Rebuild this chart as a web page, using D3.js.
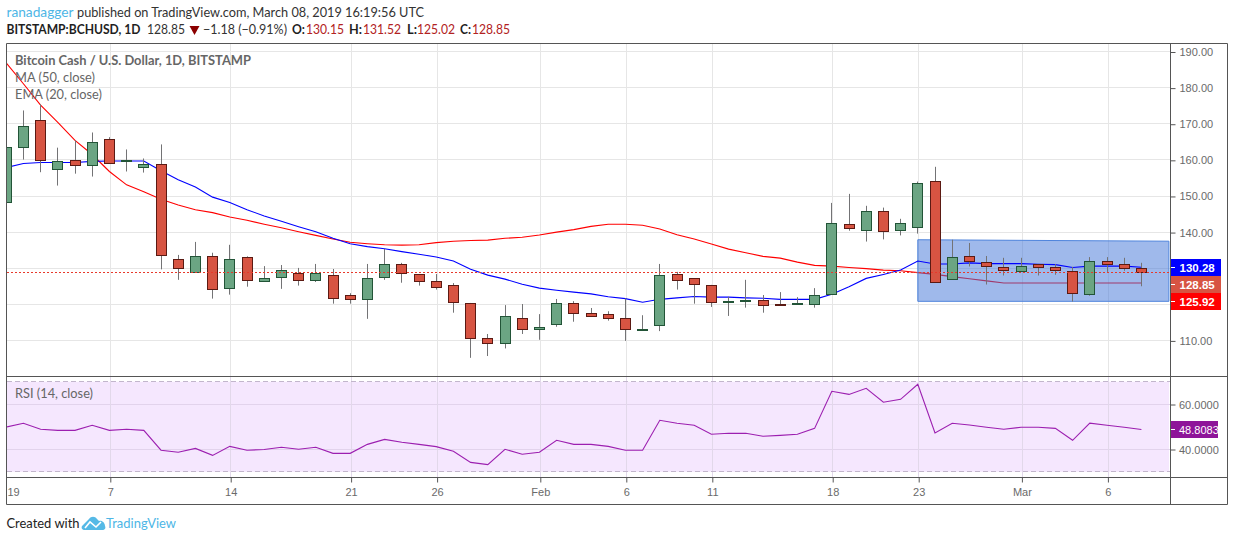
<!DOCTYPE html>
<html><head><meta charset="utf-8"><title>BCHUSD</title>
<script src="https://cdn.jsdelivr.net/npm/d3@7/dist/d3.min.js"></script>
<style>html,body{margin:0;padding:0;background:#fff;overflow:hidden}svg{display:block}</style></head>
<body><svg id="c" width="1234" height="541"></svg>
<script>
const opens=[148.3,163.6,171.1,157.5,160.0,158.6,165.8,159.7,158.1,158.9,132.5,128.9,133.3,124.5,133.1,126.4,127.5,128.6,126.7,128.1,122.5,121.4,127.5,131.1,128.3,126.4,125.3,120.3,110.8,109.2,116.1,113.1,114.5,120.3,117.5,117.2,116.1,112.9,114.2,128.3,127.2,125.3,120.7,120.8,121.1,120.0,120.1,120.0,122.8,142.2,140.6,145.8,140.6,141.4,154.2,127.0,133.3,131.7,130.3,129.2,131.1,130.3,129.2,122.8,132.0,131.1,130.15];
const highs=[163.6,173.7,175.4,163.4,165.4,167.6,166.3,162.9,160.4,164.3,133.7,137.3,134.3,136.5,133.3,130.6,130.9,130.1,131.2,129.8,123.1,131.2,135.4,131.5,128.4,128.4,125.9,120.4,111.8,119.8,120.1,117.3,121.5,120.9,119.0,118.1,121.7,117.0,131.2,129.0,127.3,125.4,122.1,126.8,122.6,123.4,122.0,124.5,148.1,150.6,147.3,146.8,143.7,154.0,158.1,137.9,137.0,133.4,132.9,132.9,131.2,131.2,130.4,133.1,133.1,132.9,131.52];
const lows=[148.3,160.1,156.6,152.9,156.2,155.4,159.2,156.8,156.5,129.7,126.8,128.9,121.6,122.7,124.9,126.4,124.3,125.2,126.2,120.2,120.2,116.0,126.8,126.0,125.2,124.1,117.7,105.2,105.7,107.8,111.8,110.2,113.8,115.2,116.6,115.5,109.9,112.9,112.6,124.1,120.2,119.3,116.8,119.1,117.7,119.6,119.9,119.1,122.8,140.4,137.4,138.0,139.1,139.6,126.1,127.0,130.5,125.5,128.0,129.2,128.0,128.2,120.8,122.4,129.0,129.3,125.02];
const closes=[163.6,169.4,159.9,159.7,158.6,165.0,159.2,160.0,159.0,133.6,130.0,133.3,124.2,132.5,126.7,127.2,129.5,126.7,128.7,121.7,121.4,127.2,131.1,128.6,126.4,124.7,120.6,110.8,109.2,116.9,113.1,113.6,120.3,117.5,116.9,116.1,113.3,113.3,128.1,126.7,125.6,120.6,120.9,121.1,119.7,119.8,120.3,122.5,142.5,141.1,145.8,140.3,142.5,153.6,126.1,133.1,132.0,130.6,129.5,130.6,130.3,129.5,123.1,132.0,131.1,130.0,128.85];
const maSeries=[186.9,181.1,175.2,170.4,165.4,161.5,156.8,153.1,151.2,149.1,147.5,146.2,145.4,144.2,143.3,142.2,141.2,140.1,139.1,138.1,137.2,136.8,136.5,136.4,136.5,137.1,137.5,137.7,137.8,138.3,138.6,139.2,140.0,140.7,141.6,142.2,142.2,141.9,140.9,139.3,138.1,136.7,135.3,134.3,133.3,132.8,131.7,130.8,130.6,130.2,129.9,129.5,129.3,128.8,128.3,127.7,127.1,126.5,125.92,125.92,125.92,125.92,125.92,125.92,125.92,125.92,125.92];
const emaSeries=[157.9,159.0,159.3,159.3,159.3,159.6,159.7,159.7,159.7,157.0,154.5,152.5,149.7,148.2,146.2,144.5,143.0,141.5,140.1,138.3,136.8,136.0,135.4,134.6,133.9,133.1,132.0,129.7,128.1,127.0,125.6,124.5,123.9,123.4,122.9,122.1,121.6,120.6,121.4,121.8,122.2,122.0,122.0,121.8,121.7,121.4,121.4,121.4,122.8,124.9,127.2,128.3,129.5,132.0,131.2,131.2,131.5,131.3,131.3,131.3,131.1,131.0,130.2,130.6,130.6,130.6,130.28];
const rsiSeries=[49.9,51.6,48.9,48.4,48.4,50.7,48.4,48.9,48.4,39.6,38.7,40.4,37.3,41.3,39.6,39.9,40.9,40.0,40.9,38.2,38.2,42.2,44.4,43.1,42.2,41.2,39.1,34.2,33.2,40.0,37.8,38.7,44.0,42.2,42.2,41.3,39.6,39.6,52.9,51.6,50.7,46.7,47.1,47.1,45.8,46.2,46.7,49.3,65.8,64.4,67.1,60.9,62.2,68.9,47.3,51.6,50.8,49.8,48.9,49.8,49.8,49.3,44.0,51.6,50.7,49.8,48.8083];
const priceGrid=[110,120,130,140,150,160,170,180,190];
const priceTicks=[110,140,150,160,170,180,190];
const priceBadges=[["130.28",130.28,"#0000ff"],["128.85",128.85,"#d75442"],["125.92",125.92,"#ff0000"]];
const rsiTicks=[40,60];
const rsiBands=[30,70];
const timeTickIdx=[0,6,13,20,25,31,36,41,48,53,59,64];
const timeTickLabels=["19","7","14","21","26","Feb","6","11","18","23","Mar","6"];
const rangeBox={fromIdx:53,toIdx:67.6,topLeft:137.9,topRight:137.5,bottom:120.85};

const svg=d3.select("#c");
const x=d3.scaleLinear().domain([0,66]).range([6.2,6.2+66*17.2]);
const y=d3.scaleLinear().domain([110,190]).range([340.5,51.6]);
const ry=d3.scaleLinear().domain([40,60]).range([449.3,404.3]);
const px=v=>Math.floor(v)+.5;
const L=6.5,R=1170.5,RO=1227.5,T=43.5,M=376.5,B=477.5,BO=504.5;
const uiFont="Lato, 'Noto Sans', sans-serif", axFont="'Liberation Sans', Arial, sans-serif";

svg.append("clipPath").attr("id","main").append("rect").attr("x",7).attr("y",44).attr("width",1163).attr("height",332);
svg.append("clipPath").attr("id","rsi").append("rect").attr("x",7).attr("y",377).attr("width",1163).attr("height",100);

// grid
const grid=svg.append("g").attr("stroke","#e6e6e6").attr("stroke-width",1);
grid.selectAll("line.h").data(priceGrid).join("line").attr("x1",7).attr("x2",1170)
  .attr("y1",d=>px(y(d))).attr("y2",d=>px(y(d)));
grid.selectAll("line.v").data(timeTickIdx.slice(1)).join("line")
  .attr("x1",d=>px(x(d)+1)).attr("x2",d=>px(x(d)+1)).attr("y1",44).attr("y2",376);

const main=svg.append("g").attr("clip-path","url(#main)");
const line=d3.line().x((d,i)=>x(i)).y(d=>y(d));
main.append("path").attr("d",line(maSeries)).attr("fill","none").attr("stroke","#ff0000").attr("stroke-width",1.1);

// range box
const boxPts=[[x(rangeBox.fromIdx),y(rangeBox.topLeft)],[x(rangeBox.toIdx),y(rangeBox.topRight)],[x(rangeBox.toIdx),y(rangeBox.bottom)],[x(rangeBox.fromIdx),y(rangeBox.bottom)]];
main.append("polygon").attr("points",boxPts.map(p=>p.join(",")).join(" "))
  .attr("fill","#3f74d8").attr("fill-opacity",.5).attr("stroke","#4f84dc").attr("stroke-width",1);

main.append("path").attr("d",line(emaSeries)).attr("fill","none").attr("stroke","#0000ff").attr("stroke-width",1.1);

// candles
const idx=d3.range(opens.length);
main.selectAll("line.w").data(idx).join("line").attr("stroke","#737375").attr("stroke-width",1)
  .attr("x1",i=>px(x(i))).attr("x2",i=>px(x(i))).attr("y1",i=>y(highs[i])).attr("y2",i=>y(lows[i]));
main.selectAll("rect.b").data(idx).join("rect")
  .attr("x",i=>px(x(i))-5).attr("width",10)
  .attr("y",i=>Math.round(y(Math.max(opens[i],closes[i])))+.5)
  .attr("height",i=>Math.max(0,Math.round(y(Math.min(opens[i],closes[i])))-Math.round(y(Math.max(opens[i],closes[i])))))
  .attr("fill",i=>closes[i]>=opens[i]?"#6ba583":"#d75442")
  .attr("stroke",i=>closes[i]>=opens[i]?"#225437":"#5b1a13").attr("stroke-width",1);

// last price line
main.append("line").attr("x1",7).attr("x2",1170).attr("y1",px(y(128.85))).attr("y2",px(y(128.85)))
  .attr("stroke","#e8392b").attr("stroke-width",1).attr("stroke-dasharray","2,2");

// RSI pane
const rsiG=svg.append("g").attr("clip-path","url(#rsi)");
rsiG.append("rect").attr("x",7).attr("width",1162).attr("y",ry(rsiBands[1])).attr("height",ry(rsiBands[0])-ry(rsiBands[1])).attr("fill","#f5e7fe");
rsiG.selectAll("line.h").data(rsiTicks).join("line").attr("x1",7).attr("x2",1170)
  .attr("y1",d=>px(ry(d))).attr("y2",d=>px(ry(d))).attr("stroke","#e2d3ec");
rsiG.selectAll("line.v").data(timeTickIdx.slice(1)).join("line")
  .attr("x1",d=>px(x(d)+1)).attr("x2",d=>px(x(d)+1)).attr("y1",377).attr("y2",477).attr("stroke","#e2d8ea");
rsiG.selectAll("line.band").data(rsiBands).join("line").attr("x1",7).attr("x2",1170)
  .attr("y1",d=>px(ry(d))).attr("y2",d=>px(ry(d))).attr("stroke","#c2b6cc").attr("stroke-dasharray","5,3");
rsiG.append("path").attr("d",d3.line().x((d,i)=>x(i)).y(d=>ry(d))(rsiSeries)).attr("fill","none").attr("stroke","#9c1fb0").attr("stroke-width",1.1);

// axes
function styleAxis(g){g.select(".domain").remove();g.selectAll("line").attr("stroke","#555");
  g.selectAll("text").attr("fill","#6a6a6a").style("font-family",axFont).style("font-size","11px");}
svg.append("g").attr("transform",`translate(${R},0.4)`)
  .call(d3.axisRight(y).tickValues(priceTicks).tickFormat(d3.format(".2f")).tickSize(5).tickPadding(4)).call(styleAxis);
svg.append("g").attr("transform",`translate(${R},0.2)`)
  .call(d3.axisRight(ry).tickValues(rsiTicks).tickFormat(d3.format(".4f")).tickSize(5).tickPadding(3.5)).call(styleAxis);
const xAxis=svg.append("g").attr("transform",`translate(0.9,${B})`)
  .call(d3.axisBottom(x).tickValues(timeTickIdx).tickFormat((d,i)=>timeTickLabels[i]).tickSize(5).tickPadding(6)).call(styleAxis);
xAxis.selectAll(".tick").filter(d=>d===0).select("line").remove();
xAxis.selectAll(".tick").filter(d=>d===0).select("text").attr("x",6);

// badges
const badges=svg.append("g");
priceBadges.forEach(([t,v,c],i)=>{
  const top=[259,276,293][i];
  badges.append("rect").attr("x",1170).attr("y",top).attr("width",51).attr("height",17).attr("fill",c);
  badges.append("line").attr("x1",1171).attr("x2",1175).attr("y1",top+8.5).attr("y2",top+8.5).attr("stroke","#fff");
  badges.append("text").attr("x",1179.5).attr("y",top+12.5).attr("fill","#fff").attr("font-family",axFont).attr("font-size",11.5).attr("font-weight",700).text(t);
});
badges.append("rect").attr("x",1170).attr("y",421).attr("width",48).attr("height",17).attr("fill","#8e1599");
badges.append("line").attr("x1",1171).attr("x2",1175).attr("y1",429.5).attr("y2",429.5).attr("stroke","#fff");
badges.append("text").attr("x",1179).attr("y",433.5).attr("fill","#fff").attr("font-family",axFont).attr("font-size",11).text("48.8083");

// frame
const frame=svg.append("g").attr("stroke","#555").attr("stroke-width",1);
[[L,T,RO,T],[L,M,RO,M],[L,B,RO,B],[L,BO,RO,BO],[L,T,L,BO],[R,T,R,BO],[RO,T,RO,BO]].forEach(a=>
  frame.append("line").attr("x1",a[0]).attr("y1",a[1]).attr("x2",a[2]).attr("y2",a[3]));

// text helpers
function txt(s,xp,yp,w,fill,o={}){const t=svg.append("text").attr("x",xp).attr("y",yp).attr("fill",fill)
  .attr("font-family",uiFont).attr("font-size",o.size||13.5).attr("font-weight",o.weight||400).text(s);
  if(w)t.attr("textLength",w).attr("lengthAdjust","spacingAndGlyphs");return t;}
const ink="#1f1f1f",legend="#666",dn="#b22222";
txt("ranadagger",6.5,17,67,"#4db6e6");
txt("published on TradingView.com, March 08, 2019 16:19:56 UTC",77,17,347,"#333");
txt("BITSTAMP:BCHUSD, 1D",6.5,34,134,ink,{weight:700});
txt("128.85",147,34,38,"#333");
svg.append("path").attr("d",d3.line()([[189.5,26],[199.5,26],[194.5,35]])+"Z").attr("fill","#8b0000");
txt("\u22121.18 (\u22120.91%)",203,34,84,"#333");
txt("O:",292,34,13,ink,{weight:700}); txt("130.15",306,34,38,dn);
txt("H:",349,34,13,ink,{weight:700}); txt("131.52",363,34,38,dn);
txt("L:",407,34,10,ink,{weight:700}); txt("125.02",417,34,38,dn);
txt("C:",460,34,11,ink,{weight:700}); txt("128.85",472,34,38,dn);
txt("Bitcoin Cash / U.S. Dollar, 1D, BITSTAMP",15,65,236,legend,{weight:700,size:13.5});
txt("MA (50, close)",15,82,80,legend);
txt("EMA (20, close)",15,99,87,legend);
txt("RSI (14, close)",15,398,78,legend);
txt("Created with",6.5,528,73,"#222");
txt("TradingView",106,528,70,"#4db6e6");
// logo
const logo=svg.append("g").attr("transform","translate(82,516)");
logo.append("path").attr("d","M0,10 L7,3 C9,0 13,0 15,3 L17,5 C20,4 23,7 23,10 C24,12 23,14 20,14 L3,14 C0,14 -1,12 0,10Z").attr("fill","#55b9e6");
logo.append("path").attr("d","M3,12 L8,6 L14,11 L19,6").attr("fill","none").attr("stroke","#fff").attr("stroke-width",1.6);
</script></body></html>
